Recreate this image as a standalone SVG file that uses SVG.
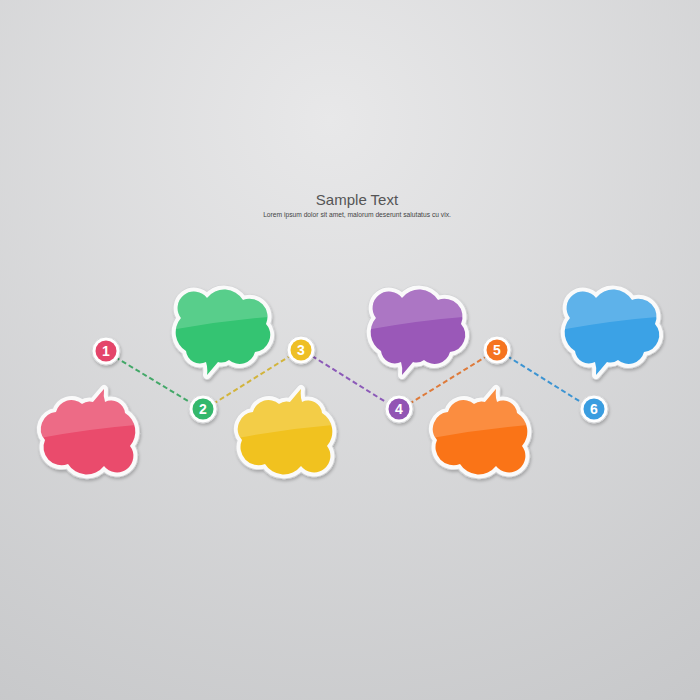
<svg xmlns="http://www.w3.org/2000/svg" xmlns:xlink="http://www.w3.org/1999/xlink" width="700" height="700" viewBox="0 0 700 700">
<defs>
  <radialGradient id="bg" cx="330" cy="120" r="700" gradientUnits="userSpaceOnUse">
    <stop offset="0" stop-color="#e8e8e9"/>
    <stop offset="1" stop-color="#c6c7c9"/>
  </radialGradient>
  <path id="cloud" d="M -40,-10 A 16 16 0 0 1 -14,-30 A 22 22 0 0 1 22,-28 A 18 18 0 0 1 45,-4 A 17 17 0 0 1 34,24 A 16 16 0 0 1 8,32 A 13 13 0 0 1 -3,34 Q -8,40 -14,47 Q -13,40 -15,34 A 14 14 0 0 1 -35,23 A 22 22 0 0 1 -40,-10 Z"/>
  <clipPath id="clipTop"><use xlink:href="#cloud"/></clipPath>
  <clipPath id="clipBot"><use xlink:href="#cloud" transform="rotate(180)"/></clipPath>
  <filter id="sh" x="-30%" y="-30%" width="160%" height="160%">
    <feDropShadow dx="1" dy="2" stdDeviation="1.6" flood-color="#000" flood-opacity="0.22"/>
  </filter>
  <path id="gloss" d="M -60,-60 H 60 V -12 Q 0,-8 -60,4 Z"/>
</defs>
<style>
  .border { fill:#fff; stroke:#fafafa; stroke-width:8; stroke-linejoin:round; }
  .outline { fill:none; stroke:#d4d5d7; stroke-width:9.5; stroke-linejoin:round; }
  .gl { fill:#fff; opacity:0.18; }
  .ring { fill:#fff; stroke:#d6d7d9; stroke-width:1; }
  .num { font-family:"Liberation Sans", Arial, sans-serif; font-size:14px; font-weight:bold; fill:#fff; text-anchor:middle; }
  .dash { fill:none; stroke-width:2; stroke-dasharray:5 3; }
</style>
<rect width="700" height="700" fill="url(#bg)"/>
<g id="title">
  <text x="357" y="205" font-family="Liberation Sans, Arial, sans-serif" font-size="15" fill="#555" text-anchor="middle">Sample Text</text>
  <text x="357" y="217" font-family="Liberation Sans, Arial, sans-serif" font-size="6.7" fill="#444" text-anchor="middle">Lorem ipsum dolor sit amet, malorum deserunt salutatus cu vix.</text>
</g>
<g id="connectors">
  <line class="dash" x1="115" y1="357" x2="193" y2="404" stroke="#43a868"/>
  <line class="dash" x1="213" y1="404" x2="290" y2="356" stroke="#d2b43c"/>
  <line class="dash" x1="312" y1="356" x2="389" y2="404" stroke="#8c5ab8"/>
  <line class="dash" x1="409" y1="404" x2="487" y2="356" stroke="#de7a3a"/>
  <line class="dash" x1="507" y1="356" x2="584" y2="404" stroke="#3c94d2"/>
</g>
<g id="cloud-red" transform="translate(90,436)">
  <g filter="url(#sh)"><use xlink:href="#cloud" class="outline" transform="rotate(180)"/><use xlink:href="#cloud" class="border" transform="rotate(180)"/></g>
  <use xlink:href="#cloud" fill="#ea4b6c" transform="rotate(180)"/>
  <use xlink:href="#gloss" class="gl" clip-path="url(#clipBot)"/>
</g>
<g id="cloud-green" transform="translate(221,328)">
  <g filter="url(#sh)"><use xlink:href="#cloud" class="outline"/><use xlink:href="#cloud" class="border"/></g>
  <use xlink:href="#cloud" fill="#34c472"/>
  <use xlink:href="#gloss" class="gl" clip-path="url(#clipTop)"/>
</g>
<g id="cloud-yellow" transform="translate(287,436)">
  <g filter="url(#sh)"><use xlink:href="#cloud" class="outline" transform="rotate(180)"/><use xlink:href="#cloud" class="border" transform="rotate(180)"/></g>
  <use xlink:href="#cloud" fill="#f1c21f" transform="rotate(180)"/>
  <use xlink:href="#gloss" class="gl" clip-path="url(#clipBot)"/>
</g>
<g id="cloud-purple" transform="translate(416,328)">
  <g filter="url(#sh)"><use xlink:href="#cloud" class="outline"/><use xlink:href="#cloud" class="border"/></g>
  <use xlink:href="#cloud" fill="#9a58b8"/>
  <use xlink:href="#gloss" class="gl" clip-path="url(#clipTop)"/>
</g>
<g id="cloud-orange" transform="translate(482,436)">
  <g filter="url(#sh)"><use xlink:href="#cloud" class="outline" transform="rotate(180)"/><use xlink:href="#cloud" class="border" transform="rotate(180)"/></g>
  <use xlink:href="#cloud" fill="#fa7417" transform="rotate(180)"/>
  <use xlink:href="#gloss" class="gl" clip-path="url(#clipBot)"/>
</g>
<g id="cloud-blue" transform="translate(610,328)">
  <g filter="url(#sh)"><use xlink:href="#cloud" class="outline"/><use xlink:href="#cloud" class="border"/></g>
  <use xlink:href="#cloud" fill="#3ba2e6"/>
  <use xlink:href="#gloss" class="gl" clip-path="url(#clipTop)"/>
</g>
<g id="n1" transform="translate(106,351)">
  <circle r="14" class="ring" filter="url(#sh)"/><circle r="10.5" fill="#e4456a"/>
  <text class="num" y="5">1</text>
</g>
<g id="n2" transform="translate(203,409)">
  <circle r="14" class="ring" filter="url(#sh)"/><circle r="10.5" fill="#34b86c"/>
  <text class="num" y="5">2</text>
</g>
<g id="n3" transform="translate(301,350)">
  <circle r="14" class="ring" filter="url(#sh)"/><circle r="10.5" fill="#eebf24"/>
  <text class="num" y="5">3</text>
</g>
<g id="n4" transform="translate(399,409)">
  <circle r="14" class="ring" filter="url(#sh)"/><circle r="10.5" fill="#9254b4"/>
  <text class="num" y="5">4</text>
</g>
<g id="n5" transform="translate(497,350)">
  <circle r="14" class="ring" filter="url(#sh)"/><circle r="10.5" fill="#f57420"/>
  <text class="num" y="5">5</text>
</g>
<g id="n6" transform="translate(594,409)">
  <circle r="14" class="ring" filter="url(#sh)"/><circle r="10.5" fill="#3a9de0"/>
  <text class="num" y="5">6</text>
</g>
</svg>
